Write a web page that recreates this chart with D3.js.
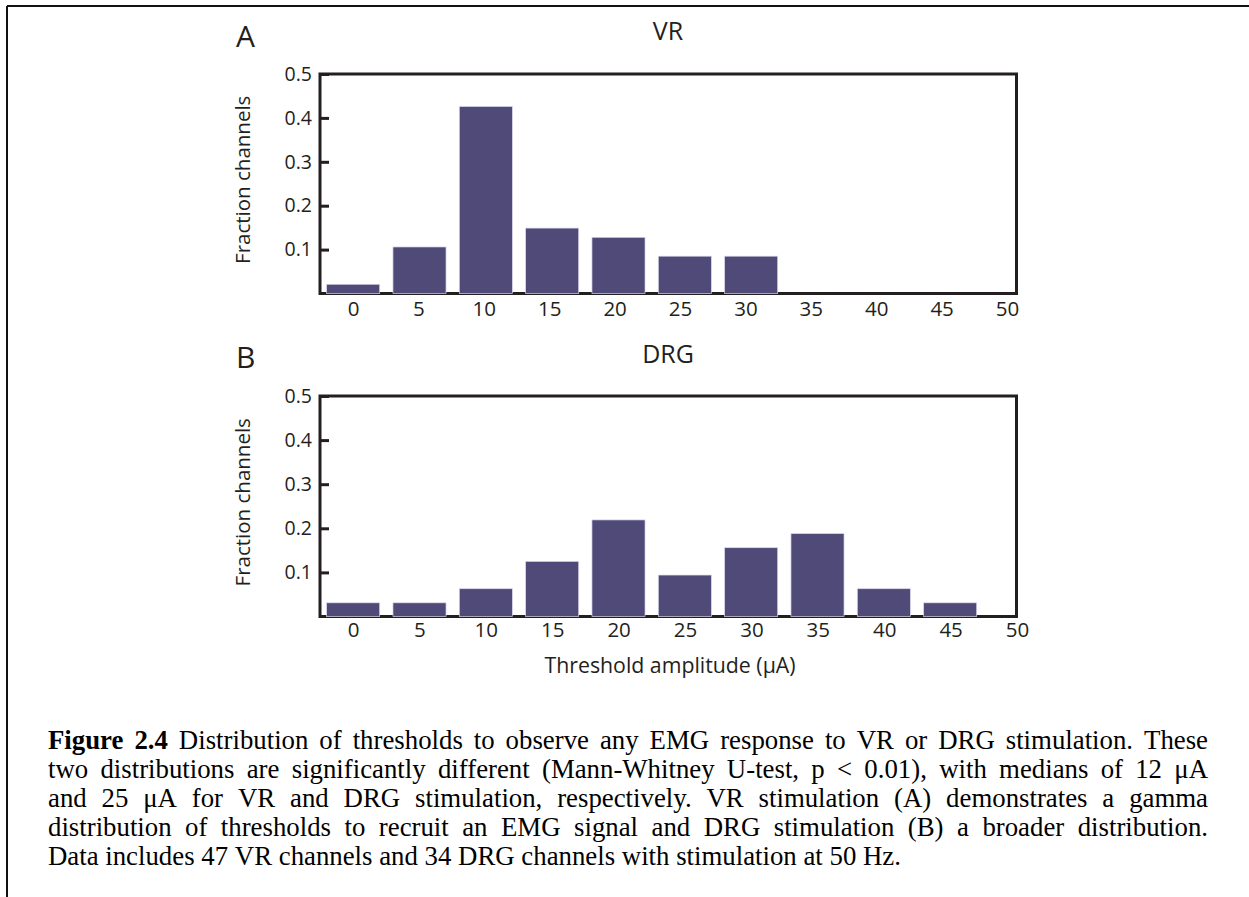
<!DOCTYPE html>
<html>
<head>
<meta charset="utf-8">
<script src="https://cdn.jsdelivr.net/npm/d3@7"></script>
<style>
  html, body { margin: 0; padding: 0; background: #fff; }
  svg { display: block; }
</style>
</head>
<body>
<svg id="fig" width="1249" height="897"></svg>
<script>
// Histogram bins: lower edge of each threshold bin (µA)
const binStarts = [0, 5, 10, 15, 20, 25, 30, 35, 40, 45];
// Tick labels along the threshold axis
const xTickLabels = [0, 5, 10, 15, 20, 25, 30, 35, 40, 45, 50];
// Fraction-of-channels tick labels
const yTickLabels = [0.1, 0.2, 0.3, 0.4, 0.5];

// VR stimulation (47 channels)
const vrFraction  = [0.021, 0.106, 0.426, 0.149, 0.128, 0.085, 0.085, 0, 0, 0];
// DRG stimulation
const drgFraction = [0.031, 0.031, 0.063, 0.125, 0.219, 0.094, 0.156, 0.188, 0.063, 0.031];

const panelLetters = ["A", "B"];
const panelTitles  = ["VR", "DRG"];
const yAxisTitle = "Fraction channels";
const xAxisTitle = "Threshold amplitude (\u03BCA)";

// Caption, one entry per printed line
const captionLines = [
  "Figure 2.4 Distribution of thresholds to observe any EMG response to VR or DRG stimulation. These",
  "two distributions are significantly different (Mann-Whitney U-test, p < 0.01), with medians of 12 \u03BCA",
  "and 25 \u03BCA for VR and DRG stimulation, respectively. VR stimulation (A) demonstrates a gamma",
  "distribution of thresholds to recruit an EMG signal and DRG stimulation (B) a broader distribution.",
  "Data includes 47 VR channels and 34 DRG channels with stimulation at 50 Hz."
];
const captionBold = ["Figure", "2.4"];

const svg = d3.select("#fig");
const ink = "#231f20";
const barFill = "#504a79";
const sans = "'Open Sans', 'Noto Sans', sans-serif";

// Page frame (top and left rules)
svg.append("line").attr("x1", 7).attr("x2", 1249).attr("y1", 6).attr("y2", 6)
  .attr("stroke", "#111").attr("stroke-width", 2);
svg.append("line").attr("x1", 7).attr("x2", 7).attr("y1", 6).attr("y2", 897)
  .attr("stroke", "#111").attr("stroke-width", 2);

const plotLeft = 320, plotRight = 1016.5;
const x = d3.scaleLinear().domain([-2.5, 50]).range([plotLeft, plotRight]);
const barW = x(4) - x(0);

const layouts = [
  { top: 74,  bottom: 293.5, letterY: 46.5, titleY: 39.5, xPad: 7.5, labelRange: [353, 1007] },
  { top: 396, bottom: 616.5, letterY: 368,  titleY: 363,  xPad: 5.5, labelRange: [353, 1017] }
];
const series = [vrFraction, drgFraction];

layouts.forEach((L, i) => {
  const y = d3.scaleLinear().domain([0, 0.5]).range([L.bottom, L.top]);
  const g = svg.append("g");

  // Panel letter and title
  g.append("text").attr("x", 236).attr("y", L.letterY)
    .attr("font-family", sans).attr("font-size", 30).attr("fill", ink)
    .text(panelLetters[i]);
  g.append("text").attr("x", 668).attr("y", L.titleY).attr("text-anchor", "middle")
    .attr("font-family", sans).attr("font-size", 25).attr("fill", ink)
    .text(panelTitles[i]);

  // Axis box
  g.append("rect")
    .attr("x", plotLeft).attr("y", L.top)
    .attr("width", plotRight - plotLeft).attr("height", L.bottom - L.top)
    .attr("fill", "none").attr("stroke", ink).attr("stroke-width", 3);

  // Bars
  g.append("g").selectAll("rect")
    .data(binStarts.map((b, j) => ({ b, v: series[i][j] })).filter(d => d.v > 0))
    .join("rect")
    .attr("x", d => x(d.b) - barW / 2)
    .attr("width", barW)
    .attr("y", d => y(d.v))
    .attr("height", d => y(0) - y(d.v))
    .attr("fill", barFill)
    .attr("stroke", "#d9d7ea").attr("stroke-width", 0.7);

  // Y axis: inward ticks, labels on the left
  const yAxis = d3.axisLeft(y).tickValues(yTickLabels)
    .tickSize(-9).tickPadding(8).tickFormat(d3.format(".1f"));
  const ya = g.append("g").attr("transform", `translate(${plotLeft},0)`).call(yAxis);
  ya.select(".domain").remove();
  ya.selectAll(".tick line").attr("stroke", ink).attr("stroke-width", 3);
  ya.selectAll(".tick text").attr("font-family", sans).attr("font-size", 19.5).attr("fill", ink);

  // X axis labels
  const xl = d3.scaleLinear().domain([0, 50]).range(L.labelRange);
  const xAxis = d3.axisBottom(xl).tickValues(xTickLabels).tickSize(0).tickPadding(L.xPad);
  const xa = g.append("g").attr("transform", `translate(0,${L.bottom})`).call(xAxis);
  xa.select(".domain").remove();
  xa.selectAll(".tick text").attr("font-family", sans).attr("font-size", 20.5).attr("fill", ink);

  // Y axis title
  g.append("text")
    .attr("transform", `translate(250,${(L.top + L.bottom) / 2 - 4}) rotate(-90)`)
    .attr("text-anchor", "middle")
    .attr("font-family", sans).attr("font-size", 20.5).attr("fill", ink)
    .text(yAxisTitle);
});

// X axis title (shared)
svg.append("text").attr("x", 670).attr("y", 672.5).attr("text-anchor", "middle")
  .attr("font-family", sans).attr("font-size", 21.3).attr("fill", ink)
  .text(xAxisTitle);

// Caption, justified between the margins except for the last line
const capLeft = 48, capRight = 1208, capTop = 749, capLead = 29;
const capSize = 26.8;
const serif = "'Liberation Serif', 'Times New Roman', serif";
const cap = svg.append("g").attr("font-family", serif).attr("font-size", capSize).attr("fill", "#000");

captionLines.forEach((line, li) => {
  const words = line.split(" ");
  const yy = capTop + li * capLead;
  const nodes = words.map((w, wi) => {
    const bold = li === 0 && wi < captionBold.length && captionBold[wi] === w;
    return cap.append("text").attr("y", yy).attr("font-weight", bold ? "bold" : "normal").text(w);
  });
  const widths = nodes.map(n => n.node().getComputedTextLength());
  const total = d3.sum(widths);
  const last = li === captionLines.length - 1;
  const space = last ? capSize * 0.25 : (capRight - capLeft - total) / (words.length - 1);
  let cx = capLeft;
  nodes.forEach((n, k) => { n.attr("x", cx); cx += widths[k] + space; });
});
</script>
</body>
</html>
